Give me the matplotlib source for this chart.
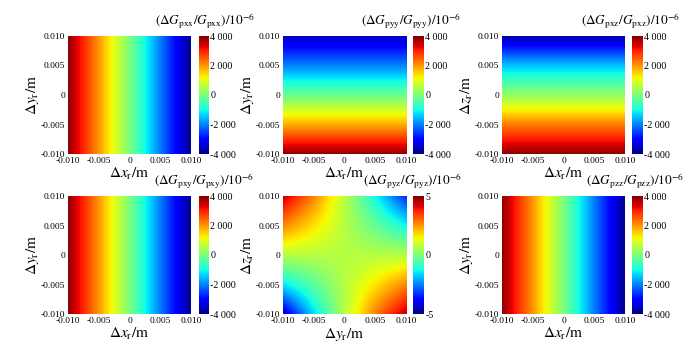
import numpy as np
import matplotlib
matplotlib.use("Agg")
import matplotlib.pyplot as plt
from matplotlib.ticker import FuncFormatter

plt.rcParams['font.family'] = ['Liberation Serif', 'DejaVu Serif']
plt.rcParams['mathtext.fontset'] = 'stix'

# sample positions (m) along each axis
grid = [-0.010, -0.005, 0.0, 0.005, 0.010]
ticks = [-0.010, -0.005, 0.0, 0.005, 0.010]
tick_labels = ['-0.010', '-0.005', '0', '0.005', '0.010']

pxx_along_x = [3900, 2000, 0, -2000, -3900]
pyy_along_y = [3900, 1800, -200, -2000, -3600]
pxz_along_z = [3900, 2200, 200, -1500, -3800]
pxy_along_x = [3900, 2000, 0, -2000, -3900]
pzz_along_x = [3900, 2000, 0, -2000, -3900]
# pyz: rows = z from -0.010 to 0.010, cols = y from -0.010 to 0.010
pyz_grid = [
    [-4.3, -1.6, 0.7, 2.8, 4.5],
    [-1.5, -0.4, 0.7, 1.7, 2.7],
    [0.7, 0.7, 0.7, 0.7, 0.7],
    [2.7, 1.7, 0.7, -0.3, -1.3],
    [4.4, 2.7, 0.7, -1.3, -3.4],
]

components = ['pxx', 'pyy', 'pxz', 'pxy', 'pyz', 'pzz']
xlabels = [r'$\Delta x_{\rm r}/\mathrm{m}$'] * 4 + [r'$\Delta y_{\rm r}/\mathrm{m}$', r'$\Delta x_{\rm r}/\mathrm{m}$']
ylabels = [r'$\Delta y_{\rm r}/\mathrm{m}$', r'$\Delta y_{\rm r}/\mathrm{m}$', r'$\Delta z_{\rm r}/\mathrm{m}$',
           r'$\Delta y_{\rm r}/\mathrm{m}$', r'$\Delta z_{\rm r}/\mathrm{m}$', r'$\Delta y_{\rm r}/\mathrm{m}$']


def make_title(comp):
    return r'$\left(\Delta G_{\rm %s}/G_{\rm %s}\right)/10^{-6}$' % (comp, comp)


def field_x(profile):
    return np.tile(np.array(profile, float), (len(grid), 1))


def field_y(profile):
    return np.tile(np.array(profile, float)[:, None], (1, len(grid)))


fields = [field_x(pxx_along_x), field_y(pyy_along_y), field_y(pxz_along_z),
          field_x(pxy_along_x), np.array(pyz_grid, float), field_x(pzz_along_x)]
limits = [4000, 4000, 4000, 4000, 5, 4000]
cbar_ticks = [[-4000, -2000, 0, 2000, 4000]] * 4 + [[-5, 0, 5], [-4000, -2000, 0, 2000, 4000]]


def thousands(v, pos):
    return f"{int(round(v)):,}".replace(',', ' ')


W, H = 700, 356
fig = plt.figure(figsize=(7.0, 3.56), dpi=100)

col_ax = [68, 283, 502]
col_cb = [(199, 10), (413, 11), (632, 11)]
row_top = [36, 196]
title_pos = [(205, 21), (411, 21), (631, 21), (204, 181), (413, 181), (635, 181)]
ax_w, ax_h = 123, 118

half = (grid[1] - grid[0]) / 2
for i in range(6):
    r, c = divmod(i, 3)
    left = col_ax[c] / W
    bottom = 1 - (row_top[r] + ax_h) / H
    ax = fig.add_axes([left, bottom, ax_w / W, ax_h / H])
    im = ax.imshow(fields[i], cmap='jet', origin='lower', interpolation='bilinear',
                   extent=[grid[0] - half, grid[-1] + half, grid[0] - half, grid[-1] + half],
                   vmin=-limits[i], vmax=limits[i], aspect='auto')
    ax.set_xlim(grid[0], grid[-1])
    ax.set_ylim(grid[0], grid[-1])
    ax.set_xticks(ticks)
    ax.set_xticklabels(tick_labels)
    ax.set_yticks(ticks)
    ax.set_yticklabels(tick_labels)
    ax.tick_params(length=0, pad=2, labelsize=6.8)
    for s in ax.spines.values():
        s.set_visible(False)
    ax.set_xlabel(xlabels[i], fontsize=11, labelpad=1)
    ax.set_ylabel(ylabels[i], fontsize=11, labelpad=0)

    cx, cw = col_cb[c]
    cax = fig.add_axes([cx / W, bottom, cw / W, ax_h / H])
    cb = fig.colorbar(im, cax=cax, ticks=cbar_ticks[i], format=FuncFormatter(thousands))
    cb.outline.set_visible(False)
    cax.tick_params(length=0, pad=1, labelsize=7.2)

    tx, ty = title_pos[i]
    fig.text(tx / W, 1 - ty / H, make_title(components[i]), fontsize=9.5, ha='center', va='center')

fig.savefig('out.png', dpi=100)
